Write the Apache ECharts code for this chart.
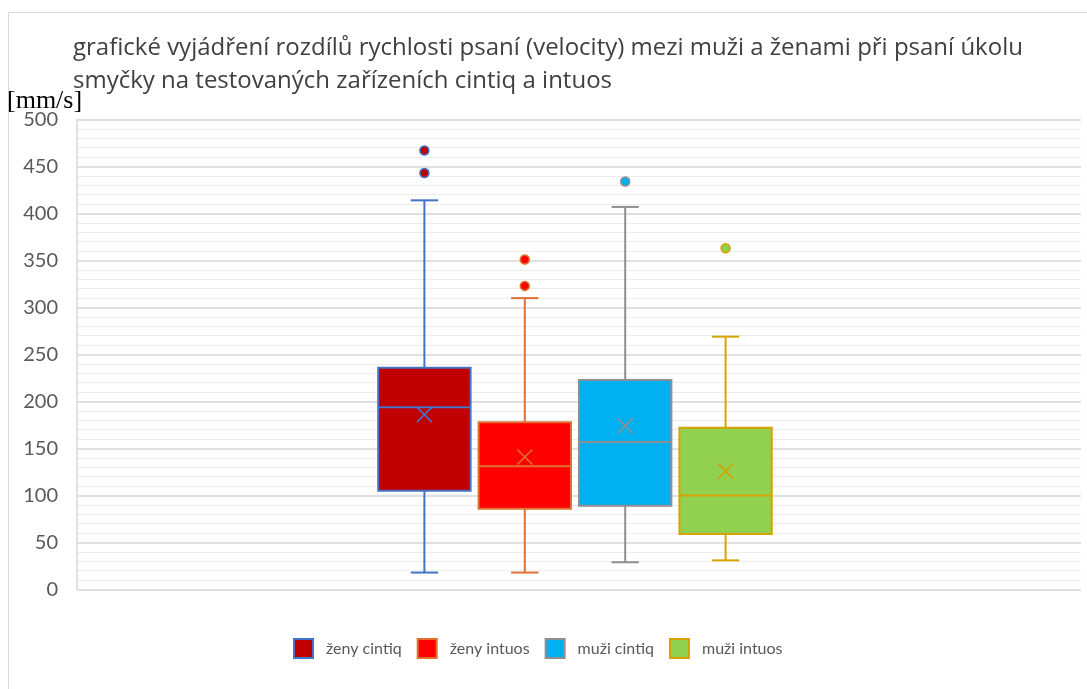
<!DOCTYPE html>
<html>
<head>
<meta charset="utf-8">
<title>rychlost psaní</title>
<script src="https://cdn.jsdelivr.net/npm/echarts@6/dist/echarts.min.js"></script>
<style>
  html, body { margin: 0; padding: 0; background: #fff; }
  #chart { width: 1087px; height: 689px; }
</style>
</head>
<body>
<div id="chart"></div>
<script>
// category slots on the x axis (10 bands, boxes sit in the middle four)
const slots = ['', '', '', 'ženy cintiq', 'ženy intuos', 'muži cintiq', 'muži intuos', '', '', '']
const groups = ['ženy cintiq', 'ženy intuos', 'muži cintiq', 'muži intuos']

// box statistics: [min, q1, median, q3, max, mean]
const zenyCintiq = [18, 105, 194, 236, 414, 186]
const zenyIntuos = [18, 86, 131, 178, 310, 141]
const muziCintiq = [29, 89, 157, 223, 407, 174]
const muziIntuos = [31, 59, 100, 172, 269, 126]
const stats = [zenyCintiq, zenyIntuos, muziCintiq, muziIntuos]

// outliers
const zenyCintiqOut = [467, 443]
const zenyIntuosOut = [351, 323]
const muziCintiqOut = [434]
const muziIntuosOut = [363]
const outliers = [zenyCintiqOut, zenyIntuosOut, muziCintiqOut, muziIntuosOut]

const yTicks = [0, 50, 100, 150, 200, 250, 300, 350, 400, 450, 500]

const fills = ['#C00000', '#FF0000', '#00B0F0', '#92D050']
const lines = ['#4472C4', '#E07030', '#8F8F8F', '#D6A300']

const chart = echarts.init(document.getElementById('chart'), null, { renderer: 'canvas' })

function boxRenderer(fill, stroke) {
  return function (params, api) {
    const x = api.value(0)
    const band = api.size([1, 0])[0]
    const half = band * 0.46
    const cap = band * 0.136
    const pMin = api.coord([x, api.value(1)])
    const pQ1 = api.coord([x, api.value(2)])
    const pMed = api.coord([x, api.value(3)])
    const pQ3 = api.coord([x, api.value(4)])
    const pMax = api.coord([x, api.value(5)])
    const pMean = api.coord([x, api.value(6)])
    const cx = pMed[0] - 4
    const ls = { stroke: stroke, lineWidth: 2 }
    const m = 7.5
    return {
      type: 'group',
      children: [
        { type: 'line', shape: { x1: cx, y1: pQ3[1], x2: cx, y2: pMax[1] }, style: ls },
        { type: 'line', shape: { x1: cx, y1: pQ1[1], x2: cx, y2: pMin[1] }, style: ls },
        { type: 'line', shape: { x1: cx - cap, y1: pMax[1], x2: cx + cap, y2: pMax[1] }, style: ls },
        { type: 'line', shape: { x1: cx - cap, y1: pMin[1], x2: cx + cap, y2: pMin[1] }, style: ls },
        {
          type: 'rect',
          shape: { x: cx - half, y: pQ3[1], width: half * 2, height: pQ1[1] - pQ3[1] },
          style: { fill: fill, stroke: stroke, lineWidth: 2 },
        },
        { type: 'line', shape: { x1: cx - half, y1: pMed[1], x2: cx + half, y2: pMed[1] }, style: ls },
        // mean marker (X)
        { type: 'line', shape: { x1: cx - m, y1: pMean[1] - m, x2: cx + m, y2: pMean[1] + m }, style: { stroke: stroke, lineWidth: 1.6 } },
        { type: 'line', shape: { x1: cx - m, y1: pMean[1] + m, x2: cx + m, y2: pMean[1] - m }, style: { stroke: stroke, lineWidth: 1.6 } },
      ],
    }
  }
}

const series = []
groups.forEach((name, i) => {
  const idx = slots.indexOf(name)
  series.push({
    name: name,
    type: 'custom',
    renderItem: boxRenderer(fills[i], lines[i]),
    itemStyle: { color: fills[i], borderColor: lines[i], borderWidth: 2 },
    encode: { x: 0, y: [1, 2, 3, 4, 5, 6] },
    data: [[idx].concat(stats[i])],
    z: 2,
  })
})
groups.forEach((name, i) => {
  const idx = slots.indexOf(name)
  series.push({
    name: name,
    type: 'scatter',
    symbol: 'circle',
    symbolSize: 9,
    symbolOffset: [-4, 0],
    itemStyle: { color: fills[i], borderColor: lines[i], borderWidth: 1.5, opacity: 1 },
    data: outliers[i].map((v) => [idx, v]),
    z: 3,
  })
})

const option = {
  animation: false,
  backgroundColor: '#fff',
  title: [
    {
      text: 'grafické vyjádření rozdílů rychlosti psaní (velocity) mezi muži a ženami při psaní úkolu\nsmyčky na testovaných zařízeních cintiq a intuos',
      left: 68,
      top: 27,
      textStyle: {
        fontFamily: 'Open Sans',
        fontWeight: 'normal',
        fontSize: 24,
        lineHeight: 33,
        color: '#404040',
      },
    },
    {
      text: '[mm/s]',
      left: 2,
      top: 83,
      textStyle: {
        fontFamily: 'Liberation Serif',
        fontWeight: 'normal',
        fontSize: 26,
        color: '#000',
      },
    },
  ],
  legend: {
    data: groups.map((name, i) => ({
      name: name,
      icon: 'rect',
      itemStyle: { color: fills[i], borderColor: lines[i], borderWidth: 2 },
    })),
    left: 288,
    top: 633,
    itemWidth: 19,
    itemHeight: 19,
    itemGap: 15,
    textStyle: {
      fontFamily: 'Lato',
      fontSize: 16,
      color: '#595959',
      padding: [0, 0, 0, 8],
    },
  },
  grid: {
    left: 77,
    right: 6,
    top: 119.5,
    bottom: 99.5,
    containLabel: false,
  },
  xAxis: {
    type: 'category',
    data: slots,
    boundaryGap: true,
    axisLine: { show: false },
    axisTick: { show: false },
    axisLabel: { show: false },
    splitLine: { show: false },
  },
  yAxis: {
    type: 'value',
    min: yTicks[0],
    max: yTicks[yTicks.length - 1],
    interval: 50,
    axisLine: { show: true, lineStyle: { color: '#d9d9d9', width: 1.5 } },
    axisTick: { show: false },
    axisLabel: {
      margin: 19,
      fontFamily: 'Lato',
      fontSize: 20,
      color: '#595959',
    },
    splitLine: { show: true, lineStyle: { color: '#d6d6d6', width: 1.5 } },
    minorTick: { show: false, splitNumber: 5 },
    minorSplitLine: { show: true, lineStyle: { color: '#ececec', width: 1 } },
  },
  graphic: [
    {
      type: 'rect',
      silent: true,
      shape: { x: 8.5, y: 12.5, width: 1200, height: 800 },
      style: { fill: 'none', stroke: '#d9d9d9', lineWidth: 1 },
      z: -10,
    },
  ],
  series: series,
}

chart.setOption(option)
</script>
</body>
</html>
